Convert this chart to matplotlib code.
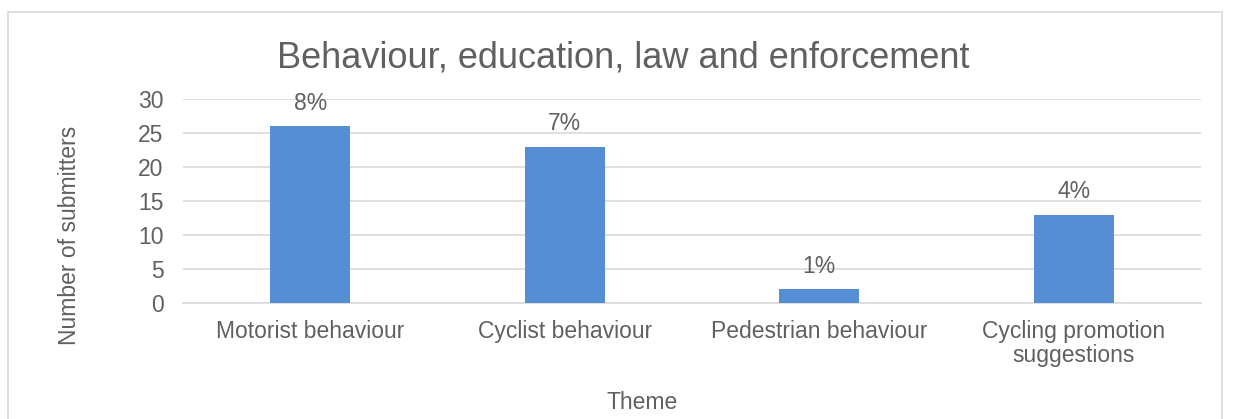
import matplotlib.pyplot as plt
from matplotlib.patches import Rectangle

categories = ["Motorist behaviour", "Cyclist behaviour", "Pedestrian behaviour",
              "Cycling promotion\nsuggestions"]
counts = [26, 23, 2, 13]
pct_labels = ["8%", "7%", "1%", "4%"]

plt.rcParams['font.family'] = ['Liberation Sans', 'DejaVu Sans']
grey = "#606060"
fs = 16.5

fig = plt.figure(figsize=(12.33, 4.19), dpi=100)
ax = fig.add_axes([183/1233, 1 - 303/419, (1201 - 183)/1233, (303 - 99)/419])

x = range(len(categories))
bars = ax.bar(x, counts, width=0.315, color="#558ED5", zorder=3)
for b, lab in zip(bars, pct_labels):
    ax.text(b.get_x() + b.get_width()/2, b.get_height() + 2.4, lab,
            ha="center", va="baseline", fontsize=fs, color=grey)

ax.set_xlim(-0.5, len(categories) - 0.5)
ax.set_ylim(0, 30)
ax.set_yticks(range(0, 31, 5))
ax.set_xticks(list(x))
ax.set_xticklabels(categories, fontsize=fs, color=grey, linespacing=1.05)
ax.tick_params(axis="y", labelsize=fs, labelcolor=grey, length=0, pad=14)
ax.tick_params(axis="x", length=0, pad=12)
ax.grid(axis="y", color="#D9D9D9", linewidth=1.2, zorder=0)
for s in ["top", "right", "left"]:
    ax.spines[s].set_visible(False)
ax.spines["bottom"].set_color("#D9D9D9")
ax.spines["bottom"].set_linewidth(1.2)

fig.text(623/1233, 1 - 58/419, "Behaviour, education, law and enforcement",
         ha="center", va="center", fontsize=26, color=grey)
fig.text(642/1233, 1 - 402/419, "Theme", ha="center", va="center",
         fontsize=fs, color=grey)
fig.text(70/1233, 1 - 235/419, "Number of submitters", ha="center", va="center",
         rotation=90, fontsize=fs, color=grey)

fig.patches.append(Rectangle((8/1233, -0.05), (1222 - 8)/1233, 1.05 - 12/419,
                             transform=fig.transFigure, fill=False,
                             edgecolor="#D9D9D9", linewidth=1.2))

fig.savefig("out.png", dpi=100)
